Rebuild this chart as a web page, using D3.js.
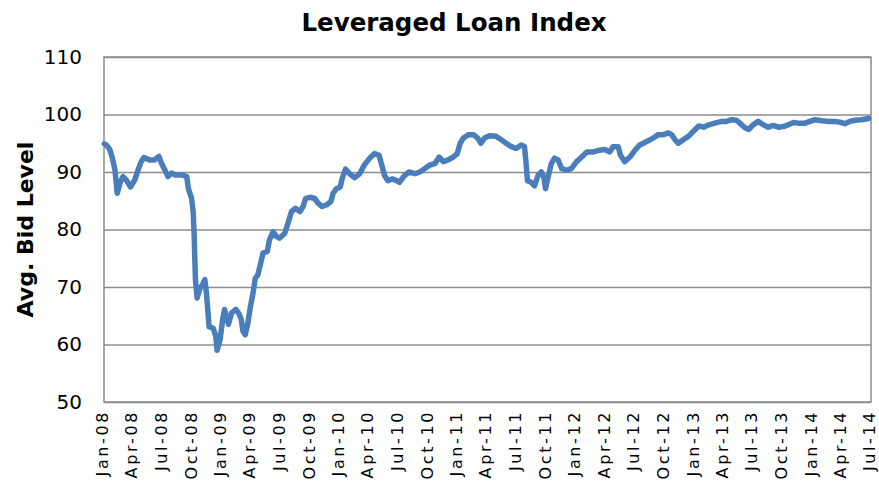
<!DOCTYPE html>
<html>
<head>
<meta charset="utf-8">
<script src="https://cdn.jsdelivr.net/npm/d3@7"></script>
<style>
  body { margin: 0; background: #fff; }
  svg { display: block; font-family: "DejaVu Sans", sans-serif; }
  .grid line { stroke: #8c8c8c; stroke-width: 1.5; }
  .grid path { display: none; }
  .axis path { display: none; }
  .axis text { fill: #000; }
</style>
</head>
<body>
<div id="chart"></div>
<script>
// chart values
const title = 'Leveraged Loan Index';
const yTitle = 'Avg. Bid Level';
const yTicks = [50, 60, 70, 80, 90, 100, 110];
const xTickLabels = ['Jan-08', 'Apr-08', 'Jul-08', 'Oct-08', 'Jan-09', 'Apr-09', 'Jul-09', 'Oct-09',
  'Jan-10', 'Apr-10', 'Jul-10', 'Oct-10', 'Jan-11', 'Apr-11', 'Jul-11', 'Oct-11', 'Jan-12', 'Apr-12',
  'Jul-12', 'Oct-12', 'Jan-13', 'Apr-13', 'Jul-13', 'Oct-13', 'Jan-14', 'Apr-14', 'Jul-14'];

const dates = [
  '2008-01-02', '2008-01-10', '2008-01-19', '2008-01-27', '2008-02-04', '2008-02-11', '2008-02-17', '2008-02-21',
  '2008-02-29', '2008-03-10', '2008-03-23', '2008-04-05', '2008-04-15', '2008-04-25', '2008-05-03', '2008-05-21',
  '2008-06-06', '2008-06-19', '2008-06-27', '2008-07-07', '2008-07-17', '2008-07-28', '2008-08-07', '2008-08-28',
  '2008-09-13', '2008-09-18', '2008-09-28', '2008-10-03', '2008-10-06', '2008-10-08', '2008-10-10', '2008-10-15',
  '2008-10-24', '2008-11-01', '2008-11-08', '2008-11-13', '2008-11-18', '2008-11-21', '2008-12-04', '2008-12-12',
  '2008-12-16', '2008-12-25', '2009-01-02', '2009-01-08', '2009-01-20', '2009-01-30', '2009-02-12', '2009-02-22',
  '2009-03-01', '2009-03-06', '2009-03-13', '2009-03-21', '2009-03-29', '2009-04-06', '2009-04-13', '2009-04-21',
  '2009-04-30', '2009-05-07', '2009-05-20', '2009-05-27', '2009-06-07', '2009-06-17', '2009-06-27', '2009-07-13',
  '2009-07-25', '2009-08-03', '2009-08-15', '2009-08-29', '2009-09-08', '2009-09-16', '2009-09-29', '2009-10-14',
  '2009-10-24', '2009-11-06', '2009-11-20', '2009-12-03', '2009-12-10', '2009-12-20', '2010-01-01', '2010-01-07',
  '2010-01-17', '2010-02-01', '2010-02-15', '2010-03-02', '2010-03-16', '2010-04-02', '2010-04-17', '2010-05-01',
  '2010-05-08', '2010-05-18', '2010-05-28', '2010-06-11', '2010-06-24', '2010-07-03', '2010-07-19', '2010-08-02',
  '2010-08-20', '2010-09-04', '2010-09-20', '2010-10-05', '2010-10-21', '2010-11-03', '2010-11-16', '2010-12-01',
  '2010-12-16', '2010-12-29', '2011-01-07', '2011-01-17', '2011-02-02', '2011-02-17', '2011-03-02', '2011-03-12',
  '2011-03-23', '2011-04-08', '2011-04-28', '2011-05-14', '2011-05-29', '2011-06-14', '2011-06-29', '2011-07-15',
  '2011-07-25', '2011-07-29', '2011-08-03', '2011-08-15', '2011-08-25', '2011-09-05', '2011-09-15', '2011-09-23',
  '2011-09-28', '2011-10-06', '2011-10-16', '2011-10-26', '2011-11-06', '2011-11-17', '2011-12-02', '2011-12-17',
  '2012-01-02', '2012-01-18', '2012-02-03', '2012-02-23', '2012-03-13', '2012-03-29', '2012-04-14', '2012-04-24',
  '2012-05-10', '2012-05-17', '2012-05-30', '2012-06-15', '2012-07-01', '2012-07-16', '2012-08-06', '2012-08-26',
  '2012-09-11', '2012-09-27', '2012-10-12', '2012-10-22', '2012-11-02', '2012-11-12', '2012-11-27', '2012-12-13',
  '2012-12-29', '2013-01-14', '2013-01-29', '2013-02-14', '2013-03-05', '2013-03-26', '2013-04-10', '2013-04-26',
  '2013-05-11', '2013-05-21', '2013-06-06', '2013-06-18', '2013-07-01', '2013-07-17', '2013-08-02', '2013-08-17',
  '2013-09-02', '2013-09-17', '2013-10-03', '2013-10-18', '2013-11-03', '2013-11-18', '2013-12-09', '2013-12-24',
  '2014-01-09', '2014-01-30', '2014-02-20', '2014-03-11', '2014-04-01', '2014-04-11', '2014-04-26', '2014-05-12',
  '2014-06-02', '2014-06-24'
];

const bidLevels = [
  94.9, 94.6, 93.9, 92.4, 90.3, 86.3, 87.5, 88.3,
  89.2, 88.6, 87.4, 88.6, 90.3, 91.8, 92.5, 92.1,
  92.1, 92.7, 91.5, 90.4, 89.2, 89.8, 89.5, 89.5,
  89.2, 87.1, 85.4, 83.0, 78.9, 74.8, 71.3, 68.1,
  69.8, 70.4, 71.3, 68.9, 65.4, 63.1, 62.8, 61.4,
  59.0, 60.8, 64.3, 66.1, 63.5, 65.5, 66.1, 65.3,
  64.3, 62.3, 61.7, 63.7, 66.6, 68.9, 71.5, 72.1,
  74.2, 75.9, 76.2, 78.2, 79.6, 78.8, 78.5, 79.3,
  81.4, 83.1, 83.7, 83.1, 84.0, 85.4, 85.6, 85.4,
  84.6, 84.0, 84.3, 84.9, 86.3, 87.1, 87.4, 88.9,
  90.5, 89.6, 89.0, 89.7, 91.2, 92.4, 93.2, 92.9,
  91.5, 89.4, 88.5, 88.8, 88.5, 88.2, 89.4, 90.0,
  89.7, 90.0, 90.6, 91.2, 91.5, 92.6, 91.8, 92.1,
  92.6, 93.2, 95.0, 95.9, 96.5, 96.5, 95.9, 95.0,
  95.9, 96.3, 96.2, 95.6, 95.0, 94.4, 94.1, 94.7,
  94.4, 92.1, 88.5, 88.2, 87.6, 89.4, 90.0, 89.1,
  87.1, 89.1, 91.5, 92.4, 92.1, 90.6, 90.3, 90.6,
  91.8, 92.6, 93.5, 93.5, 93.8, 93.9, 93.5, 94.4,
  94.4, 92.9, 91.8, 92.6, 93.8, 94.7, 95.3, 95.9,
  96.5, 96.5, 96.8, 96.5, 95.6, 95.0, 95.6, 96.2,
  97.1, 98.0, 97.8, 98.2, 98.5, 98.8, 98.8, 99.1,
  99.0, 98.5, 97.7, 97.4, 98.2, 98.8, 98.2, 97.8,
  98.1, 97.8, 97.9, 98.2, 98.6, 98.5, 98.5, 98.8,
  99.1, 98.9, 98.8, 98.8, 98.6, 98.4, 98.8, 99.0,
  99.1, 99.3
];

const config = {
  width: 879,
  height: 487,
  margin: {top: 57, right: 8, bottom: 85, left: 104}
};

const parseDay = d3.utcParse('%Y-%m-%d');
const parseTick = d3.utcParse('%b-%y');
const data = dates.map((d, i) => ({date: parseDay(d), value: bidLevels[i]}));
const tickDates = xTickLabels.map(parseTick);

const innerW = config.width - config.margin.left - config.margin.right;
const innerH = config.height - config.margin.top - config.margin.bottom;

const svg = d3.select('#chart').append('svg')
  .attr('width', config.width)
  .attr('height', config.height);

svg.append('rect')
  .attr('width', config.width)
  .attr('height', config.height)
  .attr('fill', '#fff');

const chart = svg.append('g')
  .attr('transform', `translate(${config.margin.left},${config.margin.top})`);

const x = d3.scaleUtc()
  .domain([tickDates[0], tickDates[tickDates.length - 1]])
  .range([0, innerW]);

const y = d3.scaleLinear()
  .domain([yTicks[0], yTicks[yTicks.length - 1]])
  .range([innerH, 0]);

// gridlines
chart.append('g')
  .attr('class', 'grid')
  .call(d3.axisLeft(y).tickValues(yTicks).tickSize(-innerW).tickFormat(''));

// plot area frame
chart.append('rect')
  .attr('width', innerW)
  .attr('height', innerH)
  .attr('fill', 'none')
  .attr('stroke', '#8c8c8c')
  .attr('stroke-width', 1.5);

// y axis
const yAxis = chart.append('g')
  .attr('class', 'axis')
  .call(d3.axisLeft(y).tickValues(yTicks).tickSize(0).tickPadding(22));
yAxis.selectAll('text')
  .attr('font-size', 20)
  .attr('font-family', '"DejaVu Sans", sans-serif');

// x axis
const xAxis = chart.append('g')
  .attr('class', 'axis')
  .attr('transform', `translate(0,${innerH})`)
  .call(d3.axisBottom(x).tickValues(tickDates).tickSize(0).tickFormat((d, i) => xTickLabels[i]));
xAxis.selectAll('text')
  .attr('font-size', 16)
  .attr('letter-spacing', 2.6)
  .attr('font-family', '"DejaVu Sans", sans-serif')
  .attr('text-anchor', 'end')
  .attr('dy', '0.22em')
  .attr('y', 0)
  .attr('transform', 'translate(0,8) rotate(-90)');

// line
const line = d3.line()
  .x(d => x(d.date))
  .y(d => y(d.value));

chart.append('path')
  .datum(data)
  .attr('fill', 'none')
  .attr('stroke', '#4a7ebb')
  .attr('stroke-width', 5.5)
  .attr('stroke-linejoin', 'round')
  .attr('stroke-linecap', 'round')
  .attr('d', line);

// titles
svg.append('text')
  .attr('x', 454)
  .attr('y', 31)
  .attr('text-anchor', 'middle')
  .attr('font-size', 24.5)
  .attr('font-weight', 'bold')
  .text(title);

svg.append('text')
  .attr('transform', `translate(33,${config.margin.top + innerH / 2}) rotate(-90)`)
  .attr('text-anchor', 'middle')
  .attr('font-size', 22)
  .attr('font-weight', 'bold')
  .text(yTitle);
</script>
</body>
</html>
